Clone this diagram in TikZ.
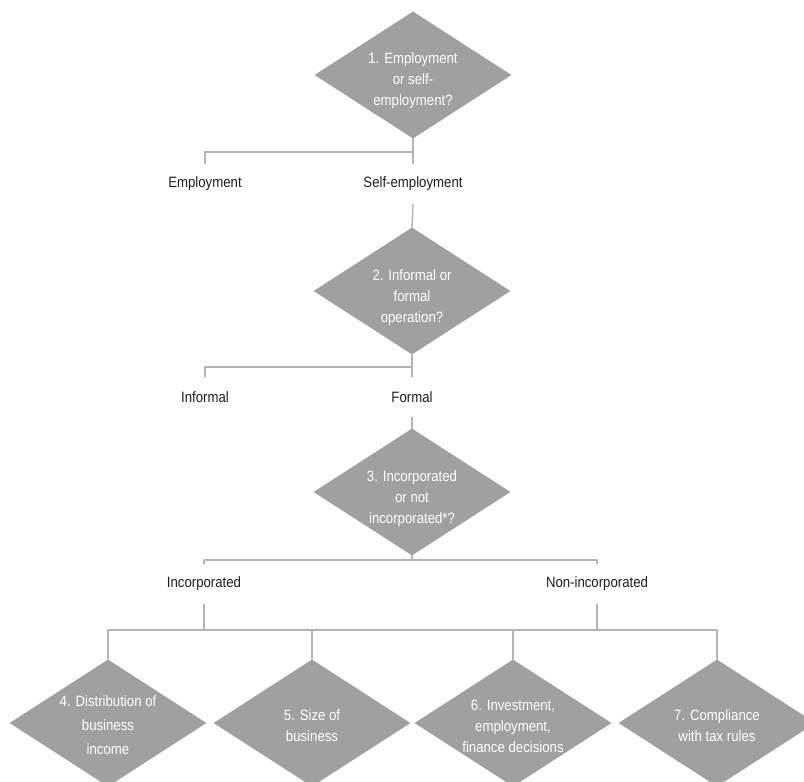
\documentclass[tikz,border=0pt]{standalone}
\usepackage{fontspec}
\setmainfont{Liberation Sans}[FakeStretch=0.88]
\usetikzlibrary{shapes.geometric}
\definecolor{boxgray}{HTML}{A0A0A0}
\definecolor{linegray}{HTML}{B4B4B4}
\definecolor{ink}{HTML}{1E1E1E}
\tikzset{
  every picture/.style={line join=round, line cap=round},
  decision/.style={diamond, fill=boxgray, inner sep=0pt, minimum width=197pt, minimum height=127pt},
  qtext/.style={text=white, inner sep=0pt, align=center, font=\fontsize{15}{21}\selectfont},
  answer/.style={text=ink, inner sep=0pt, minimum height=40pt, font=\fontsize{15}{18}\selectfont},
  link/.style={draw=linegray, line width=1.4pt},
}

\begin{document}
\begin{tikzpicture}[x=1pt,y=-1pt]
\useasboundingbox (0,0) rectangle (804,782);
\clip (0,0) rectangle (804,782);
% questions and answers
\node[decision, label={[qtext, yshift=-6pt]center:{1. Employment\\or self-\\employment?}}] (q1) at (413,75) {};
\node[answer] (emp) at (205,184) {Employment};
\node[answer] (self) at (413,184) {Self-employment};
\node[decision, label={[qtext, yshift=-7pt]center:{2. Informal or\\formal\\operation?}}] (q2) at (412,291) {};
\node[answer] (inf) at (205,397) {Informal};
\node[answer] (frm) at (412,397) {Formal};
\node[decision, label={[qtext, yshift=-7pt]center:{3. Incorporated\\or not\\incorporated*?}}] (q3) at (412,492) {};
\node[answer] (inc) at (204,584) {Incorporated};
\node[answer] (ninc) at (597,584) {Non-incorporated};
\node[decision, label={[qtext, yshift=-2pt]center:{4. Distribution of\\[3pt]business\\[3pt]income}}] (q4) at (108,723) {};
\node[decision, label={[qtext, yshift=-3pt]center:{5. Size of\\business}}] (q5) at (312,723) {};
\node[decision, label={[qtext, yshift=-3pt]center:{6. Investment,\\employment,\\finance decisions}}] (q6) at (513,723) {};
\node[decision, label={[qtext, yshift=-3pt]center:{7. Compliance\\with tax rules}}] (q7) at (717,723) {};
% junctions
\coordinate (j1) at (413,152);
\coordinate (j2) at (412,367);
\coordinate (j3) at (412,560);
\coordinate (j4) at (204,630);
\coordinate (j5) at (597,630);
% connectors
\draw[link] (q1.south) -- (self.north);
\draw[link] (j1) -| (emp.north);
\draw[link] (self.south) -- (q2.north);
\draw[link] (q2.south) -- (frm.north);
\draw[link] (j2) -| (inf.north);
\draw[link] (frm.south) -- (q3.north);
\draw[link] (q3.south) -- (j3);
\draw[link] (j3) -| (inc.north);
\draw[link] (j3) -| (ninc.north);
\draw[link] (inc.south) -- (j4);
\draw[link] (ninc.south) -- (j5);
\draw[link] (q4.north |- j4) -- (q7.north |- j4);
\foreach \q in {q4,q5,q6,q7}
  \draw[link] (\q.north |- j4) -- (\q.north);
\end{tikzpicture}
\end{document}
